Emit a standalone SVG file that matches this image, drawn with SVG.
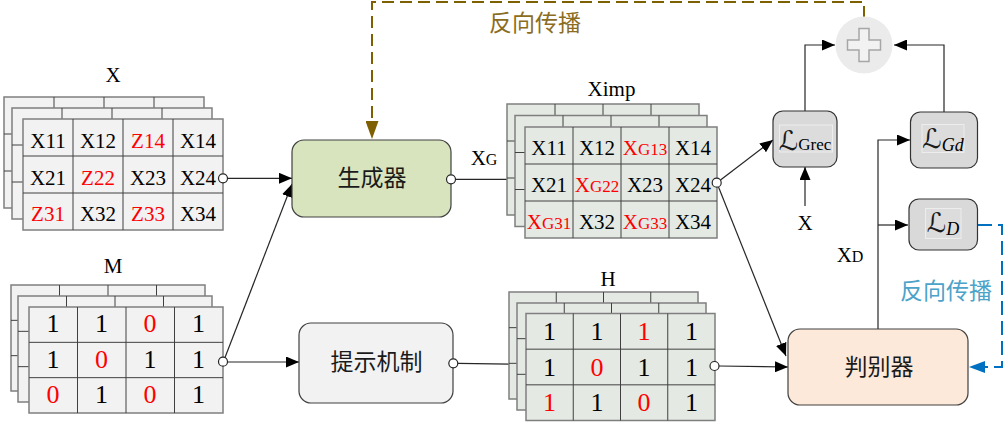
<svg xmlns="http://www.w3.org/2000/svg" xmlns:xlink="http://www.w3.org/1999/xlink" width="1008" height="432" viewBox="0 0 1008 432">
<style>
.t{font-family:"Liberation Serif","Times New Roman",serif;fill:#000}
.r{fill:#ff0000}
.cj{font-family:"Noto Sans CJK SC","Noto Sans CJK JP",sans-serif;font-size:23px;fill:#1a1a1a}
.frm{stroke:#7f7f7f;stroke-width:1.5}
.gl{stroke:#404040;stroke-width:1;fill:none}
.ln{stroke:#262626;stroke-width:1.2;fill:none}
.dot{fill:#fff;stroke:#262626;stroke-width:1.2}
.box{stroke:#404040;stroke-width:1.2}
.loss{fill:#d9d9d9;stroke:#333;stroke-width:1.2}
.fr{fill:#dcdcdc;stroke:#ededed;stroke-width:1}
.sc{font-family:"DejaVu Serif","DejaVu Sans",serif;font-size:27px;fill:#1a1a1a}
</style>
<defs>
<marker id="arr" viewBox="0 0 13 11" refX="13" refY="5.5" markerWidth="13" markerHeight="11" markerUnits="userSpaceOnUse" orient="auto"><path d="M0,0L13,5.5L0,11z" fill="#000"/></marker>
<marker id="arrB" viewBox="0 0 18 13" refX="18" refY="6.5" markerWidth="18" markerHeight="13" markerUnits="userSpaceOnUse" orient="auto"><path d="M0,0L18,6.5L0,13z" fill="#7f6000"/></marker>
<marker id="arrC" viewBox="0 0 16 12" refX="16" refY="6" markerWidth="16" markerHeight="12" markerUnits="userSpaceOnUse" orient="auto"><path d="M0,0L16,6L0,12z" fill="#0070c0"/></marker>
<g id="layX"><rect width="200" height="111" fill="#f2f2f2" class="frm"/><path class="gl" d="M50,0V111M100,0V111M150,0V111M0,37H200M0,74H200"/></g>
<g id="layM"><rect width="194" height="106" fill="#f2f2f2" class="frm"/><path class="gl" d="M48.5,0V106M97,0V106M145.5,0V106M0,35.33H194M0,70.67H194"/></g>
<g id="layI"><rect width="192" height="111" fill="#e4e9e4" class="frm"/><path class="gl" d="M48,0V111M96,0V111M144,0V111M0,37H192M0,74H192"/></g>
<g id="layH"><rect width="189" height="107" fill="#e4e9e4" class="frm"/><path class="gl" d="M47.25,0V107M94.5,0V107M141.75,0V107M0,35.67H189M0,71.33H189"/></g>
</defs>
<rect width="1008" height="432" fill="#fff"/>

<g id="connectors">
<path class="ln" d="M227.5,178.3H292" marker-end="url(#arr)"/>
<path class="ln" d="M225,357.5L292,184" marker-end="url(#arr)"/>
<path class="ln" d="M228,362H299" marker-end="url(#arr)"/>
<path class="ln" d="M455.5,179.3H525" marker-end="url(#arr)"/>
<path class="ln" d="M458,363.3L526,364.5" marker-end="url(#arr)"/>
<path class="ln" d="M719,366L788,367" marker-end="url(#arr)"/>
<path class="ln" d="M720.5,180L773,140" marker-end="url(#arr)"/>
<path class="ln" d="M718.5,187L786,356" marker-end="url(#arr)"/>
<path class="ln" d="M805,206V167" marker-end="url(#arr)"/>
<path class="ln" d="M805,111V45H835" marker-end="url(#arr)"/>
<path class="ln" d="M944,112V45H894" marker-end="url(#arr)"/>
<path class="ln" d="M878,329V140H910" marker-end="url(#arr)"/>
<path class="ln" d="M878,225H908" marker-end="url(#arr)"/>
<path d="M864,18V2H372V139" fill="none" stroke="#7f6000" stroke-width="2" stroke-dasharray="12,6" marker-end="url(#arrB)"/>
<path d="M978,225H1002V367H969" fill="none" stroke="#0070c0" stroke-width="2" stroke-dasharray="14,6" marker-end="url(#arrC)"/>
<text class="cj" x="535" y="31" text-anchor="middle" style="fill:#8c6d1f">反向传播</text>
<text class="cj" x="946" y="299" text-anchor="middle" style="fill:#4ba3c9">反向传播</text>
<text class="t" x="484" y="165" font-size="21" text-anchor="middle">X<tspan font-size="16">G</tspan></text>
<text class="t" x="850" y="262" font-size="21" text-anchor="middle">X<tspan font-size="16">D</tspan></text>
<text class="t" x="805" y="230" font-size="21" text-anchor="middle">X</text>
</g>

<g id="matX">
<text class="t" x="113" y="82" font-size="21" text-anchor="middle">X</text>
<use xlink:href="#layX" href="#layX" x="4" y="97"/>
<use xlink:href="#layX" href="#layX" x="12" y="108"/>
<use xlink:href="#layX" href="#layX" x="23" y="119"/>
<g class="t" font-size="21" text-anchor="middle">
<text x="48" y="148">X11</text><text x="98" y="148">X12</text><text x="148" y="148" class="r">Z14</text><text x="198" y="148">X14</text>
<text x="48" y="185">X21</text><text x="98" y="185" class="r">Z22</text><text x="148" y="185">X23</text><text x="198" y="185">X24</text>
<text x="48" y="221" class="r">Z31</text><text x="98" y="221">X32</text><text x="148" y="221" class="r">Z33</text><text x="198" y="221">X34</text>
</g>
<circle class="dot" cx="223" cy="178.3" r="4.5"/>
</g>

<g id="matM">
<text class="t" x="113" y="273" font-size="21" text-anchor="middle">M</text>
<use xlink:href="#layM" href="#layM" x="11" y="285"/>
<use xlink:href="#layM" href="#layM" x="18" y="296"/>
<use xlink:href="#layM" href="#layM" x="29" y="307"/>
<g class="t" font-size="26" text-anchor="middle">
<text x="53" y="332">1</text><text x="101.5" y="332">1</text><text x="150" y="332" class="r">0</text><text x="198.5" y="332">1</text>
<text x="53" y="368">1</text><text x="101.5" y="368" class="r">0</text><text x="150" y="368">1</text><text x="198.5" y="368">1</text>
<text x="53" y="403" class="r">0</text><text x="101.5" y="403">1</text><text x="150" y="403" class="r">0</text><text x="198.5" y="403">1</text>
</g>
<circle class="dot" cx="223" cy="361.7" r="4.5"/>
</g>

<g id="generator">
<rect class="box" x="292" y="140" width="159" height="77" rx="12" fill="#d7e4bd"/>
<text class="cj" x="372" y="186" text-anchor="middle">生成器</text>
<circle class="dot" cx="451" cy="179.3" r="4.5"/>
</g>

<g id="hint">
<rect class="box" x="299" y="323" width="154" height="80" rx="12" fill="#f2f2f2"/>
<text class="cj" x="376.5" y="370" text-anchor="middle">提示机制</text>
<circle class="dot" cx="453.3" cy="363.3" r="4.5"/>
</g>

<g id="matXimp">
<text class="t" x="611.5" y="96" font-size="21" text-anchor="middle">Ximp</text>
<use xlink:href="#layI" href="#layI" x="507" y="104"/>
<use xlink:href="#layI" href="#layI" x="515" y="115.5"/>
<use xlink:href="#layI" href="#layI" x="525" y="127"/>
<g class="t" font-size="21" text-anchor="middle">
<text x="549" y="155">X11</text><text x="597" y="155">X12</text><text x="645" y="155" class="r">X<tspan font-size="17">G13</tspan></text><text x="693" y="155">X14</text>
<text x="549" y="192">X21</text><text x="597" y="192" class="r">X<tspan font-size="17">G22</tspan></text><text x="645" y="192">X23</text><text x="693" y="192">X24</text>
<text x="549" y="229" class="r">X<tspan font-size="17">G31</tspan></text><text x="597" y="229">X32</text><text x="645" y="229" class="r">X<tspan font-size="17">G33</tspan></text><text x="693" y="229">X34</text>
</g>
<circle class="dot" cx="716.7" cy="182.7" r="4.5"/>
</g>

<g id="matH">
<text class="t" x="608" y="286" font-size="21" text-anchor="middle">H</text>
<use xlink:href="#layH" href="#layH" x="509" y="292"/>
<use xlink:href="#layH" href="#layH" x="517" y="303"/>
<use xlink:href="#layH" href="#layH" x="526" y="313.5"/>
<g class="t" font-size="26" text-anchor="middle">
<text x="549.6" y="340">1</text><text x="596.9" y="340">1</text><text x="644.1" y="340" class="r">1</text><text x="691.4" y="340">1</text>
<text x="549.6" y="376">1</text><text x="596.9" y="376" class="r">0</text><text x="644.1" y="376">1</text><text x="691.4" y="376">1</text>
<text x="549.6" y="411" class="r">1</text><text x="596.9" y="411">1</text><text x="644.1" y="411" class="r">0</text><text x="691.4" y="411">1</text>
</g>
<circle class="dot" cx="714.5" cy="366" r="4.5"/>
</g>

<g id="discriminator">
<rect class="box" x="788" y="329" width="180" height="76" rx="12" fill="#fce9d9"/>
<text class="cj" x="879" y="375" text-anchor="middle">判别器</text>
</g>

<g id="lossGrec">
<rect class="loss" x="773" y="111" width="64" height="56" rx="10"/>
<rect class="fr" x="779.5" y="125" width="53" height="27"/>
<text x="805" y="150" text-anchor="middle"><tspan class="sc">ℒ</tspan><tspan class="t" font-size="17">Grec</tspan></text>
</g>

<g id="lossGd">
<rect class="loss" x="910.5" y="112" width="67" height="56" rx="10"/>
<rect class="fr" x="922" y="124.5" width="42" height="28"/>
<text x="943" y="148" text-anchor="middle"><tspan class="sc">ℒ</tspan><tspan class="t" font-size="18" font-style="italic" dy="2.5">Gd</tspan></text>
</g>

<g id="lossD">
<rect class="loss" x="909" y="199" width="68.5" height="51" rx="10"/>
<rect class="fr" x="925.5" y="208.5" width="35.5" height="30"/>
<text x="943" y="231.5" text-anchor="middle"><tspan class="sc">ℒ</tspan><tspan class="t" font-size="18" font-style="italic" dy="3">D</tspan></text>
</g>

<g id="sum">
<circle cx="864" cy="45" r="28.5" fill="#ebebeb"/>
<path d="M859,28.5H869V40H880.5V50H869V61.5H859V50H847.5V40H859z" fill="#f2f2f2" stroke="#a6a6a6" stroke-width="1.5"/>
</g>
</svg>
